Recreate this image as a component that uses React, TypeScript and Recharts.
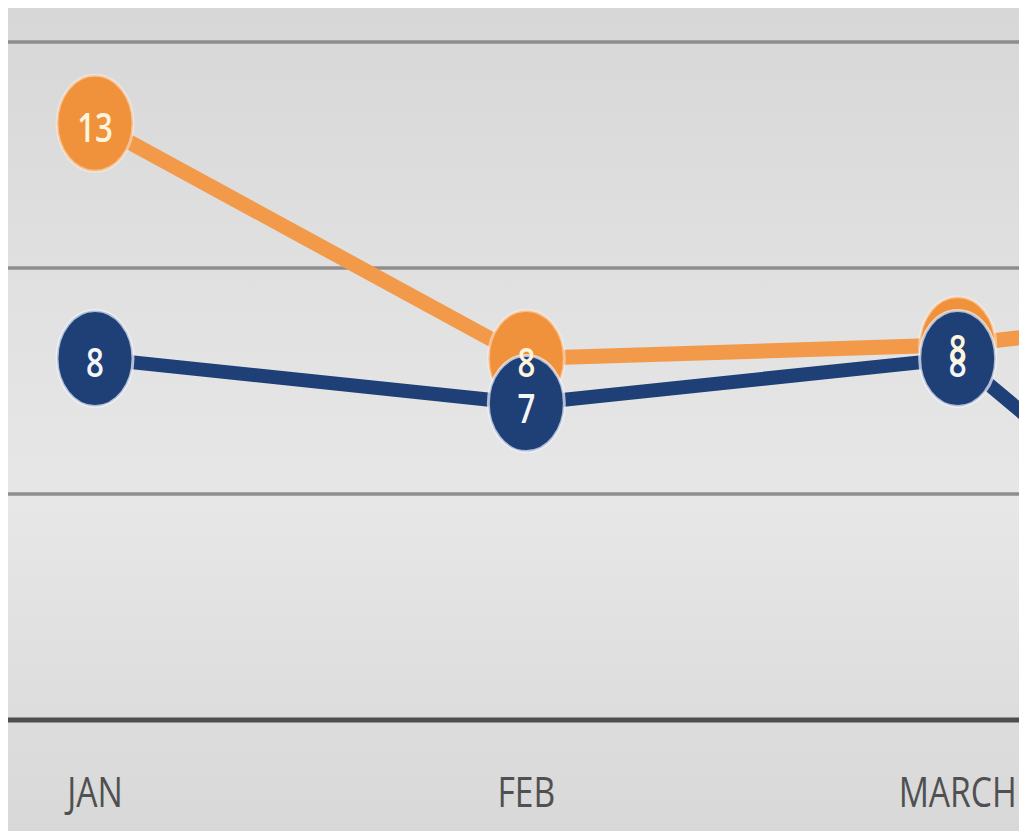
import React from 'react';
import { LineChart, Line, XAxis, YAxis, CartesianGrid, LabelList } from 'recharts';

// the fourth point lies past the right edge of the picture, so its month name is not known
const months = ['JAN', 'FEB', 'MARCH', ''];
const orangeValues = [13.2, 8, 8.3, 9.4];
const blueValues = [8, 7, 8, 0];
const gridTicks = [0, 5, 10, 15];

const data = months.map((month, i) => ({
  month,
  orange: orangeValues[i],
  blue: blueValues[i],
}));

const ORANGE = '#f0913b';
const ORANGE_LINE = '#f29a4a';
const BLUE = '#1f3f77';

function makeDot(fill: string, halo: string) {
  return (props: any) => {
    const { cx, cy, index } = props;
    if (cx == null || cy == null) return <g key={index} />;
    return (
      <ellipse
        key={index}
        cx={cx}
        cy={cy}
        rx={38}
        ry={48}
        fill={fill}
        stroke={halo}
        strokeWidth={3}
      />
    );
  };
}

function makeLabel(color: string) {
  return (props: any) => {
    const { x, y, value, index } = props;
    // no number for the point that is outside the picture
    if (x == null || y == null || !months[index]) return null;
    return (
      <text
        transform={`translate(${x},${y + 4}) scale(0.78,1)`}
        textAnchor="middle"
        dominantBaseline="central"
        fill={color}
        fontFamily="'Open Sans', sans-serif"
        fontWeight={600}
        fontSize={40}
      >
        {Math.round(value)}
      </text>
    );
  };
}

function MonthTick(props: any) {
  const { x, y, payload } = props;
  if (!payload.value) return null;
  return (
    <text
      transform={`translate(${x},${y + 70}) scale(0.8,1)`}
      textAnchor="middle"
      dominantBaseline="central"
      fill="#505050"
      fontFamily="'Open Sans', sans-serif"
      fontSize={42}
    >
      {payload.value}
    </text>
  );
}

export default function App() {
  return (
    <div
      style={{
        width: 1019,
        height: 831,
        marginBottom: -8,
        overflow: 'hidden',
        background:
          'linear-gradient(to bottom, #d7d7d7 0%, #e1e1e1 35%, #e7e7e7 60%, #dddddd 85%, #d8d8d8 100%)',
      }}
    >
      <LineChart
        width={1462}
        height={831}
        data={data}
        margin={{ top: 34, right: 0, left: 0, bottom: 29 }}
      >
        <CartesianGrid vertical={false} stroke="#8e8e8e" strokeWidth={3.5} />
        <XAxis
          dataKey="month"
          height={90}
          padding={{ left: 87, right: 81 }}
          axisLine={{ stroke: '#4e4e4e', strokeWidth: 5 }}
          tickLine={false}
          tickSize={0}
          tickMargin={0}
          tick={<MonthTick />}
          interval={0}
        />
        <YAxis hide domain={[0, 15]} ticks={gridTicks} />
        <Line
          type="linear"
          dataKey="orange"
          stroke={ORANGE_LINE}
          strokeWidth={15}
          dot={makeDot(ORANGE, 'rgba(255,240,225,0.5)')}
          activeDot={false}
          isAnimationActive={false}
        />
        <Line
          type="linear"
          dataKey="blue"
          stroke={BLUE}
          strokeWidth={14}
          dot={makeDot(BLUE, 'rgba(240,245,252,0.7)')}
          activeDot={false}
          isAnimationActive={false}
        >
          <LabelList dataKey="blue" content={makeLabel('#f4f6f8')} />
        </Line>
        {/* orange numbers drawn last so they sit over the blue markers */}
        <Line
          type="linear"
          dataKey="orange"
          stroke="none"
          dot={false}
          activeDot={false}
          legendType="none"
          isAnimationActive={false}
        >
          <LabelList dataKey="orange" content={makeLabel('#fff4dc')} />
        </Line>
      </LineChart>
    </div>
  );
}
